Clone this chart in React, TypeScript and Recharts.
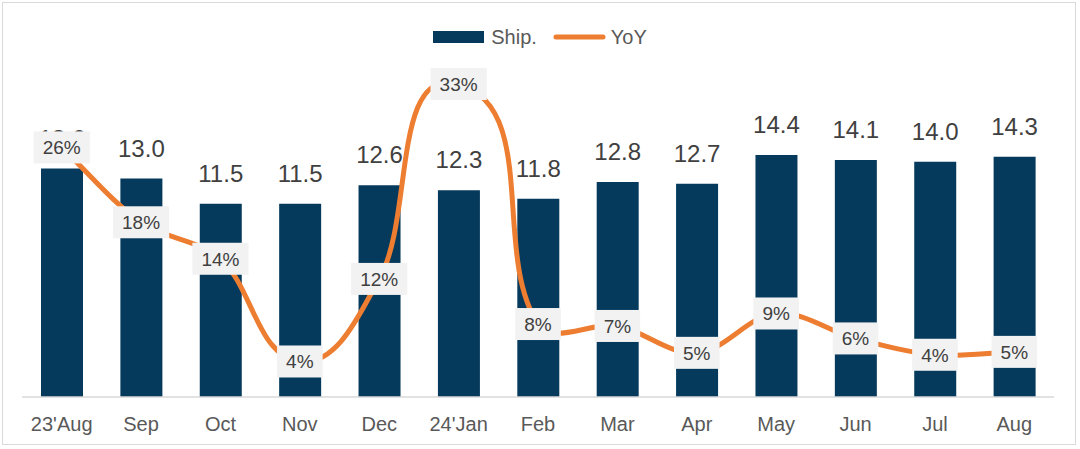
import React from 'react';
import { ComposedChart, Bar, Line, XAxis, YAxis, Legend, LabelList } from 'recharts';

const months = ["23'Aug", 'Sep', 'Oct', 'Nov', 'Dec', "24'Jan", 'Feb', 'Mar', 'Apr', 'May', 'Jun', 'Jul', 'Aug'];
const shipments = [13.6, 13.0, 11.5, 11.5, 12.6, 12.3, 11.8, 12.8, 12.7, 14.4, 14.1, 14.0, 14.3];
const yoyValues = [0.26, 0.182, 0.144, 0.037, 0.123, 0.326, 0.076, 0.074, 0.046, 0.087, 0.061, 0.044, 0.047];

const data = months.map((m, i) => ({ month: m, ship: shipments[i], yoy: yoyValues[i] }));

const NAVY = '#053a5c';
const ORANGE = '#ed7d31';
const FONT = "'Liberation Sans', Arial, sans-serif";

// Excel-like smoothed line: tangent through neighbours, control arms scaled by chord lengths
function excelSmooth(context: any) {
  let pts: [number, number][] = [];
  const dist = (a: [number, number], b: [number, number]) => Math.hypot(b[0] - a[0], b[1] - a[1]);
  return {
    areaStart() {},
    areaEnd() {},
    lineStart() {
      pts = [];
    },
    lineEnd() {
      const n = pts.length;
      if (!n) return;
      context.moveTo(pts[0][0], pts[0][1]);
      if (n === 2) {
        context.lineTo(pts[1][0], pts[1][1]);
        return;
      }
      // tangent unit vectors
      const outArm: [number, number][] = [];
      const inArm: [number, number][] = [];
      for (let i = 0; i < n; i++) {
        const prev = pts[i === 0 ? 0 : i - 1];
        const next = pts[i === n - 1 ? n - 1 : i + 1];
        const tx = next[0] - prev[0];
        const ty = next[1] - prev[1];
        const tl = Math.hypot(tx, ty) || 1;
        const dPrev = i > 0 ? dist(pts[i - 1], pts[i]) : 0;
        const dNext = i < n - 1 ? dist(pts[i], pts[i + 1]) : 0;
        outArm.push([(tx / tl) * dNext / 3, (ty / tl) * dNext / 3]);
        inArm.push([(tx / tl) * dPrev / 3, (ty / tl) * dPrev / 3]);
      }
      for (let i = 0; i < n - 1; i++) {
        const p1 = pts[i];
        const p2 = pts[i + 1];
        context.bezierCurveTo(
          p1[0] + outArm[i][0],
          p1[1] + outArm[i][1],
          p2[0] - inArm[i + 1][0],
          p2[1] - inArm[i + 1][1],
          p2[0],
          p2[1]
        );
      }
    },
    point(x: number, y: number) {
      pts.push([+x, +y]);
    },
  };
}

const YoyLabel = (props: any) => {
  const { x, y, value } = props;
  if (x == null || y == null) return null;
  const txt = `${Math.round(value * 100)}%`;
  const digits = txt.length - 1;
  const w = digits * 10.6 + 17 + 18;
  const h = 32;
  return (
    <g>
      <rect x={x - w / 2} y={y - h / 2} width={w} height={h} fill="#f2f2f2" />
      <text
        x={x}
        y={y + 7}
        textAnchor="middle"
        fontSize={19}
        fontFamily={FONT}
        fill="#404040"
      >
        {txt}
      </text>
    </g>
  );
};

const LegendContent = () => (
  <div
    style={{
      display: 'flex',
      justifyContent: 'center',
      alignItems: 'center',
      height: 30,
      fontFamily: FONT,
      fontSize: 20,
      color: '#595959',
    }}
  >
    <div style={{ width: 51, height: 12, background: NAVY, marginRight: 7 }} />
    <span style={{ marginRight: 16 }}>Ship.</span>
    <svg width={53} height={8} style={{ marginRight: 5 }}>
      <line x1={3} y1={4} x2={50} y2={4} stroke={ORANGE} strokeWidth={5} strokeLinecap="round" />
    </svg>
    <span>YoY</span>
  </div>
);

export default function App() {
  return (
    <div style={{ position: 'relative', width: 1080, height: 449, background: '#fff' }}>
      <style>{`body{margin:0;}`}</style>
      <div
        style={{
          position: 'absolute',
          left: 2,
          top: 2,
          width: 1072,
          height: 441,
          border: '1px solid #d9d9d9',
          pointerEvents: 'none',
        }}
      />
      <ComposedChart
        width={1080}
        height={449}
        data={data}
        margin={{ top: 61, right: 26, bottom: 22, left: 22 }}
        style={{ fontFamily: FONT }}
      >
        <XAxis
          dataKey="month"
          tickLine={false}
          tickSize={0}
          tickMargin={20}
          height={30}
          axisLine={{ stroke: '#d9d9d9', strokeWidth: 1.5 }}
          tick={{ fontSize: 20, fill: '#595959', fontFamily: FONT }}
          interval={0}
        />
        <YAxis yAxisId="left" hide domain={[0, 20]} />
        <YAxis yAxisId="right" orientation="right" hide domain={[0, 0.35]} />
        <Legend
          verticalAlign="middle"
          align="center"
          layout="horizontal"
          content={<LegendContent />}
          wrapperStyle={{ top: 22, left: 0, width: 1080, height: 30 }}
        />
        <Bar yAxisId="left" dataKey="ship" name="Ship." fill={NAVY} barSize={42} isAnimationActive={false}>
          <LabelList
            dataKey="ship"
            position="top"
            offset={22}
            formatter={(v: any) => Number(v).toFixed(1)}
            style={{ fontSize: 24, fill: '#404040', fontFamily: FONT }}
          />
        </Bar>
        <Line
          yAxisId="right"
          dataKey="yoy"
          name="YoY"
          type={excelSmooth as any}
          stroke={ORANGE}
          strokeWidth={5}
          dot={false}
          activeDot={false}
          isAnimationActive={false}
        >
          <LabelList dataKey="yoy" content={<YoyLabel />} />
        </Line>
      </ComposedChart>
    </div>
  );
}
